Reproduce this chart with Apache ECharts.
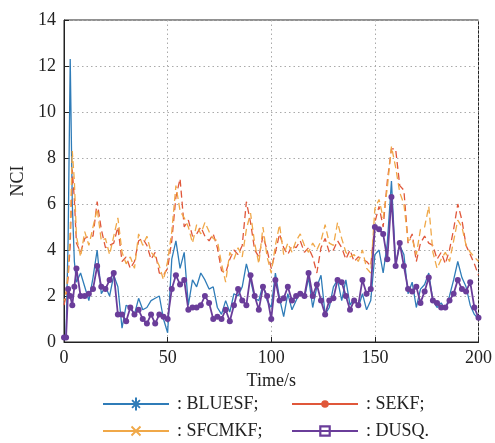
<!DOCTYPE html>
<html>
<head>
<meta charset="utf-8">
<script src="https://cdn.jsdelivr.net/npm/echarts@6/dist/echarts.min.js"></script>
<style>html,body{margin:0;padding:0;background:#fff}#c{width:495px;height:443px}</style>
</head>
<body>
<div id="c"></div>
<script>
// time stamps (s): dense at start, then every 2 s
const TIME = [0,1,2,3,4,5].concat(Array.from({length:98},(_,i)=>6+2*i));
const X_TICKS = [0,50,100,150,200];
const Y_TICKS = [0,2,4,6,8,10,12,14];
const NAMES = [': BLUESF;', ': SEKF;', ': SFCMKF;', ': DUSQ.'];

const BLUESF = [0.2,0.3,4.5,12.3,6.0,3.5,2.6,3.0,2.4,1.8,2.8,4.0,2.1,2.4,2.0,2.9,2.4,0.6,1.6,1.5,1.2,1.9,1.4,1.5,1.8,1.9,2.0,1.0,0.4,3.6,4.4,3.2,3.9,1.6,2.7,2.4,3.0,2.7,2.3,2.4,1.5,1.2,1.8,1.3,2.1,2.0,2.4,3.4,2.7,1.9,1.8,2.5,1.8,1.5,3.0,1.9,1.1,2.1,1.4,1.8,2.2,1.9,2.8,1.5,2.4,2.9,1.2,1.5,2.4,2.7,1.8,2.7,1.6,1.9,1.5,2.1,1.4,1.8,3.8,4.0,3.0,4.3,7.0,3.4,4.2,3.8,2.1,2.6,1.5,2.3,2.5,3.0,1.8,1.5,1.7,1.4,2.0,2.7,3.5,2.8,2.4,1.6,1.2,1.0];
const SEKF = [1.6,2.0,2.8,4.2,7.5,6.2,4.3,3.9,4.5,4.6,4.6,6.1,4.9,4.1,4.2,4.3,5.0,3.5,3.7,3.2,3.5,4.4,4.5,4.2,3.6,3.9,3.0,2.9,3.2,4.4,6.3,7.1,5.0,5.3,4.6,4.7,5.0,4.6,4.4,4.7,4.1,3.1,3.0,3.6,4.0,3.8,4.2,6.1,5.2,4.0,3.7,4.6,4.0,3.2,3.9,4.7,4.1,3.8,4.2,4.1,4.4,3.9,4.1,3.7,3.0,4.1,4.5,3.9,4.0,4.4,4.1,3.6,4.0,3.5,3.7,3.6,3.5,3.3,5.2,5.9,5.0,7.0,8.4,8.4,6.8,6.6,4.3,4.7,3.5,4.3,4.6,4.3,4.2,3.6,3.9,3.4,4.0,4.9,6.0,5.3,4.2,3.8,3.4,2.9];
const SFCMKF = [1.8,2.2,3.0,4.9,8.3,7.0,4.6,3.7,4.8,4.2,5.0,5.8,4.4,4.5,3.8,4.6,5.4,3.9,3.4,3.7,3.2,4.7,4.2,4.6,3.9,3.7,3.3,2.7,3.5,4.8,6.8,5.7,5.4,5.0,4.3,5.1,4.7,5.2,4.8,4.5,4.4,3.4,2.6,3.9,3.6,4.1,3.7,4.9,5.6,4.3,3.4,5.0,3.7,3.0,4.2,5.1,3.8,4.3,3.9,4.4,4.7,4.2,3.9,4.3,4.0,4.4,5.1,4.3,4.2,5.2,4.5,3.9,3.7,3.8,3.5,4.0,3.2,3.0,5.8,6.2,5.4,6.7,8.5,7.6,6.5,6.0,4.4,4.5,3.8,4.9,5.0,5.9,3.9,3.2,3.6,3.9,3.5,4.4,5.3,5.0,4.2,3.9,3.7,3.5];
const DUSQ = [0.2,0.2,2.3,2.0,1.6,2.4,3.2,2.0,2.0,2.1,2.3,3.3,2.4,2.3,2.7,3.0,1.2,1.2,0.9,1.5,1.2,1.4,1.0,0.8,1.2,0.8,1.2,1.1,1.0,2.3,2.9,2.5,2.7,1.4,1.5,1.5,1.6,2.0,1.7,1.0,1.1,1.0,1.4,0.9,1.6,2.3,1.8,1.6,2.9,2.0,1.4,2.4,2.0,1.0,2.7,1.8,1.9,2.4,1.8,2.0,2.1,2.0,3.0,2.0,2.5,1.8,1.2,1.8,1.9,2.7,2.6,2.0,1.4,1.8,1.6,2.7,2.1,2.3,5.0,4.9,4.7,3.6,6.3,3.3,4.3,3.3,2.3,2.2,2.4,1.7,2.2,2.8,1.8,1.7,1.5,1.5,1.8,2.1,2.7,2.3,2.2,2.6,1.5,1.05];

const COLORS = ['#2f7cb8', '#e0573a', '#f0a848', '#6a3d9a'];
const FONT = 'Liberation Serif';

const LINE = 'M0 6.1L66 6.1L66 7.9L0 7.9Z';
const ICONS = [
  'path://' + LINE + 'M32 0.5L34 0.5L34 13.5L32 13.5ZM26.5 6L39.5 6L39.5 8L26.5 8Z' +
    'M28.38 3.72L29.72 2.38L37.62 10.28L36.28 11.62ZM29.72 11.62L28.38 10.28L36.28 2.38L37.62 3.72Z',
  'path://' + LINE + 'M29.2 7A3.8 3.8 0 1 1 36.8 7A3.8 3.8 0 1 1 29.2 7Z',
  'path://' + LINE + 'M27.83 3.17L29.17 1.83L38.17 10.83L36.83 12.17ZM29.17 12.17L27.83 10.83L36.83 1.83L38.17 3.17Z',
  'path://' + LINE + 'M27.2 1.2L38.8 1.2L38.8 12.8L27.2 12.8ZM29.4 3.4L29.4 10.6L36.6 10.6L36.6 3.4Z'
];

function pairs(vals){ return TIME.map((t,i)=>[t, vals[i]]); }

const chart = echarts.init(document.getElementById('c'), null, {renderer:'canvas'});
const legendBase = {
  orient: 'vertical', itemWidth: 66, itemHeight: 14, itemGap: 9, padding: 0,
  height: 48,
  symbolKeepAspect: true,
  textStyle: {fontFamily: FONT, fontSize: 18, lineHeight: 18, color: '#222', padding: [0,0,0,3]},
  itemStyle: {borderWidth: 0}
};
chart.setOption({
  animation: false,
  backgroundColor: '#fff',
  grid: {left: 64, right: 15, top: 20, bottom: 101, show: true, borderColor: '#222', borderWidth: 1, backgroundColor: 'transparent'},
  legend: [
    Object.assign({}, legendBase, {left: 103, top: 395,
      data: [{name: NAMES[0], icon: ICONS[0]}, {name: NAMES[2], icon: ICONS[2]}]}),
    Object.assign({}, legendBase, {left: 292, top: 395,
      data: [{name: NAMES[1], icon: ICONS[1]}, {name: NAMES[3], icon: ICONS[3]}]})
  ],
  xAxis: {
    type: 'value', min: X_TICKS[0], max: X_TICKS[X_TICKS.length-1], interval: 50,
    name: 'Time/s', nameLocation: 'middle', nameGap: 30,
    nameTextStyle: {fontFamily: FONT, fontSize: 18, color: '#222'},
    axisLine: {show: true, lineStyle: {color: '#222', width: 1}},
    axisTick: {show: true, inside: true, length: 5, lineStyle: {color: '#222'}},
    axisLabel: {fontFamily: FONT, fontSize: 18, color: '#222', margin: 7},
    splitLine: {show: true, lineStyle: {color: '#aaa', type: [1.5, 3], width: 1}}
  },
  yAxis: {
    type: 'value', min: Y_TICKS[0], max: Y_TICKS[Y_TICKS.length-1], interval: 2,
    name: 'NCI', nameLocation: 'middle', nameGap: 34, nameRotate: 90,
    nameTextStyle: {fontFamily: FONT, fontSize: 18, color: '#222'},
    axisLine: {show: true, lineStyle: {color: '#222', width: 1}},
    axisTick: {show: true, inside: true, length: 5, lineStyle: {color: '#222'}},
    axisLabel: {fontFamily: FONT, fontSize: 18, color: '#222', margin: 8},
    splitLine: {show: true, lineStyle: {color: '#aaa', type: [1.5, 3], width: 1}}
  },
  series: [
    {name: NAMES[0], type: 'line', data: pairs(BLUESF), showSymbol: false, symbol: 'none',
     itemStyle: {color: COLORS[0]}, lineStyle: {color: COLORS[0], width: 1.3}, z: 2},
    {name: NAMES[1], type: 'line', data: pairs(SEKF), showSymbol: false, symbol: 'none',
     itemStyle: {color: COLORS[1]}, lineStyle: {color: COLORS[1], width: 1.3, type: [7, 4]}, z: 3},
    {name: NAMES[2], type: 'line', data: pairs(SFCMKF), showSymbol: false, symbol: 'none',
     itemStyle: {color: COLORS[2]}, lineStyle: {color: COLORS[2], width: 1.3, type: [7, 4], dashOffset: 5}, z: 4},
    {name: NAMES[3], type: 'line', data: pairs(DUSQ), showSymbol: true, symbol: 'circle', symbolSize: 6,
     itemStyle: {color: COLORS[3]}, lineStyle: {color: COLORS[3], width: 1.8}, z: 5}
  ]
});
</script>
</body>
</html>
